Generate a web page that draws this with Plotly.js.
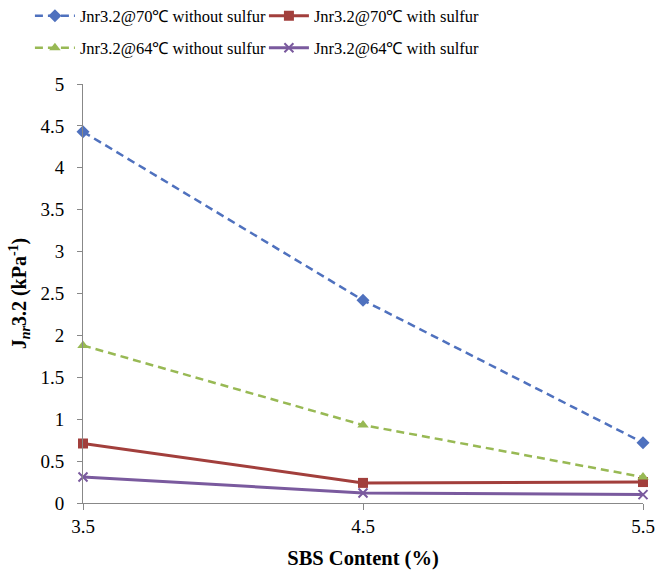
<!DOCTYPE html>
<html><head><meta charset="utf-8">
<script src="https://cdn.plot.ly/plotly-3.0.1.min.js"></script>
<style>html,body{margin:0;padding:0;background:#fff}#chart{width:665px;height:571px}</style>
</head><body><div id="chart"></div>
<script>
var sbsContent = [3.5, 4.5, 5.5];
var seriesNames = ["Jnr3.2@70℃ without sulfur", "Jnr3.2@70℃ with sulfur", "Jnr3.2@64℃ without sulfur", "Jnr3.2@64℃ with sulfur"];
var jnr70Without = [4.43, 2.42, 0.72];
var jnr70With = [0.71, 0.24, 0.25];
var jnr64Without = [1.88, 0.93, 0.31];
var jnr64With = [0.31, 0.12, 0.10];
var yTicks = [0, 0.5, 1, 1.5, 2, 2.5, 3, 3.5, 4, 4.5, 5];
var yTickText = ["0", "0.5", "1", "1.5", "2", "2.5", "3", "3.5", "4", "4.5", "5"];
var xTickText = ["3.5", "4.5", "5.5"];

var FONT = "Liberation Serif, Times New Roman, Times, serif";
function tr(name, y, color, dash, symbol, msize, width, leg) {
  return {x: sbsContent, y: y, name: name, type: 'scatter', mode: 'lines+markers',
    cliponaxis: false, legend: leg,
    line: {color: color, dash: dash, width: width},
    marker: {symbol: symbol, size: msize, color: color, line: {color: color, width: symbol === 'x-thin' ? 2 : 0}}};
}
var data = [
  tr(seriesNames[0], jnr70Without, '#4F71BE', '8px,5px', 'diamond', 10, 2.5, 'legend'),
  tr(seriesNames[1], jnr70With, '#A23F3C', 'solid', 'square', 10, 3, 'legend'),
  tr(seriesNames[2], jnr64Without, '#98B954', '8px,5px', 'triangle-up', 10, 2.5, 'legend2'),
  tr(seriesNames[3], jnr64With, '#7A5A9E', 'solid', 'x-thin', 9, 3, 'legend2')
];
function leg(ytop) {
  return {orientation: 'h', x: 0.045, xref: 'container', y: ytop, yref: 'container', yanchor: 'middle',
    entrywidth: 179, entrywidthmode: 'pixels', font: {family: FONT, size: 16.5, color: '#000'},
    itemwidth: 40, bgcolor: 'rgba(0,0,0,0)'};
}
var layout = {
  width: 665, height: 571,
  margin: {l: 83, r: 22, t: 84, b: 68},
  paper_bgcolor: '#fff', plot_bgcolor: '#fff',
  font: {family: FONT, size: 18, color: '#000'},
  showlegend: true,
  legend: leg(1 - 16/571),
  legend2: leg(1 - 48/571),
  xaxis: {range: [3.5, 5.5], tickvals: sbsContent, ticktext: xTickText,
    showgrid: false, zeroline: false, showline: true, linecolor: '#888', linewidth: 1,
    ticks: 'outside', ticklen: 6, tickcolor: '#888', tickfont: {family: FONT, size: 19},
    title: {text: '<b>SBS Content (%)</b>', font: {family: FONT, size: 20.5}, standoff: 14}},
  yaxis: {range: [0, 5], tickvals: yTicks, ticktext: yTickText,
    showgrid: false, zeroline: false, showline: true, linecolor: '#888', linewidth: 1,
    ticks: 'outside', ticklen: 5, tickcolor: '#888', tickfont: {family: FONT, size: 19},
    ticklabelstandoff: 9,
    title: {text: '<b>J<sub><i>nr</i></sub>3.2 (kPa<sup>-1</sup>)</b>', font: {family: FONT, size: 20}, standoff: 8}}
};
Plotly.newPlot('chart', data, layout, {displayModeBar: false, staticPlot: true});
</script></body></html>
